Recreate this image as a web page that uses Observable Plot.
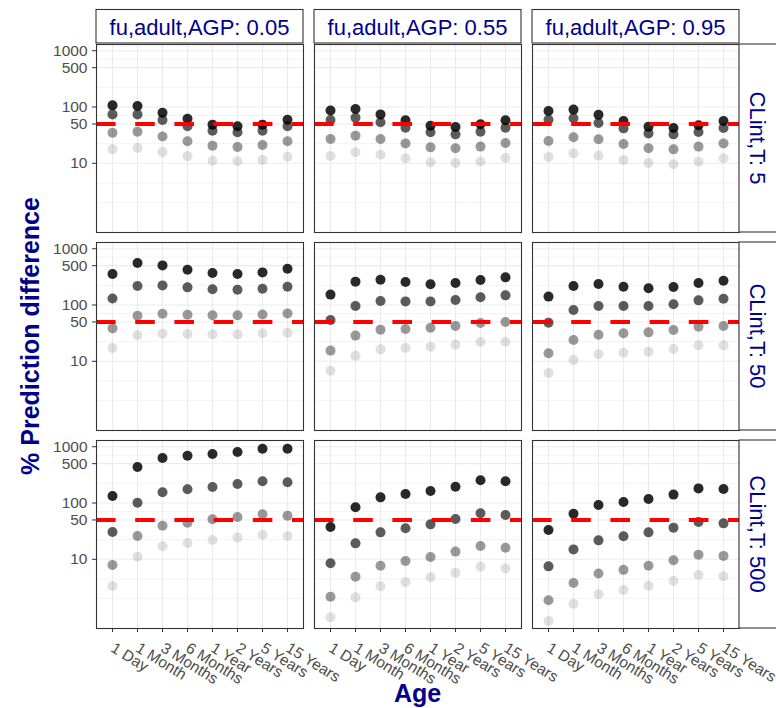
<!DOCTYPE html>
<html><head><meta charset="utf-8">
<script src="https://cdn.jsdelivr.net/npm/d3@7"></script>
<script src="https://cdn.jsdelivr.net/npm/@observablehq/plot@0.6"></script>
<style>
body{margin:0;background:#fff;overflow:hidden}
#wrap{position:relative;width:776px;height:708px;overflow:hidden}
</style></head><body><div id="wrap"></div>
<script>
// categories
const ages = ["1 Day","1 Month","3 Months","6 Months","1 Year","2 Years","5 Years","15 Years"];
const agpLevels = ["0.05","0.55","0.95"];
const clintLevels = ["5","50","500"];
// four series per panel, darkest to lightest
const seriesOpacity = [0.84, 0.64, 0.4, 0.12];
// tick labels
const yTicks = [10, 50, 100, 500, 1000];
const yMinor = [2, 4.47, 22.4, 70.7, 224, 707];
const refLine = 50;

// values, one array per panel: [series1..series4] x ages
const p5_005 = [
  [107,104,79,62,48.6,45.4,48.6,59.6],
  [74,74,58.8,45.4,38,35.5,38,45.4],
  [35,36.5,30,24.6,20.6,19.5,21.2,24.6],
  [17.7,18.7,15.9,13.3,11.1,10.9,11.5,13.1]];
const p5_055 = [
  [87,92,74,58,46.6,44.2,49.3,58],
  [58.8,64.7,53.5,43,35.5,32.7,36.5,43],
  [27,31,27,22.6,19.2,18.5,19.8,23],
  [13.5,15.7,14.2,12.3,10.4,10.1,10.8,12.4]];
const p5_095 = [
  [85,90,73,56.4,44.8,42.4,47.3,56.4],
  [59.6,63,52,41.8,34,32.7,36,42.4],
  [24.9,29,26.7,22,18.5,17.7,19.8,22.6],
  [13,15,13.7,11.5,10.1,9.6,10.7,12.3]];
const p50_005 = [
  [355,557,506,424,370,355,380,442],
  [131,217,223,206,190,187,195,211],
  [38.5,64.7,70,67,65.6,65.6,68,71],
  [17.2,29,31,30.6,30.1,30.1,31.4,32.3]];
const p50_055 = [
  [153,260,282,256,233,246,278,310],
  [54,96,118,116,116,123,137,148.5],
  [15.5,28.6,36.5,37.5,39.6,42.4,47.9,49.9],
  [6.8,12.6,16.3,17.2,18.2,19.8,22,22.3]];
const p50_095 = [
  [141,217,236,211,198,209,246,270],
  [48.6,81.5,96,96,96,103,121,129.5],
  [13.9,23.9,29.7,31.4,32.7,36,41.2,42.4],
  [6.2,10.5,13.3,14.2,14.8,16.6,19.2,19.2]];
const p500_005 = [
  [133,436,629,692,741,804,921,921],
  [30.6,101,155,175,192,217,243,233],
  [7.9,26,39.6,44.8,51.3,56.4,63,59.6],
  [3.36,11.1,17,19.5,22,24.3,27.4,26]];
const p500_055 = [
  [37.5,83.8,126,144.5,163,195,253,243],
  [8.5,19.2,30.1,35.5,41.8,52,65.6,61.2],
  [2.17,4.92,7.7,9.3,11,13.7,17.2,16.1],
  [0.93,2.11,3.32,3.96,4.8,5.8,7.4,6.9]];
const p500_095 = [
  [33.2,64.7,92,104,118,141,182,177],
  [7.5,15,21.7,25.6,30.1,36.5,46,43.5],
  [1.87,3.8,5.6,6.5,7.7,9.6,12.1,11.5],
  [0.80,1.63,2.39,2.85,3.4,4.12,5.27,5]];

const panels = [
  ["5","0.05",p5_005],["5","0.55",p5_055],["5","0.95",p5_095],
  ["50","0.05",p50_005],["50","0.55",p50_055],["50","0.95",p50_095],
  ["500","0.05",p500_005],["500","0.55",p500_055],["500","0.95",p500_095]];

const table = [];
for (let s = 3; s >= 0; s--) {
  for (const [clint, agp, vals] of panels) {
    vals[s].forEach((v, i) => table.push({clint, agp, age: ages[i], value: v, op: seriesOpacity[s]}));
  }
}

const FONT = "'Liberation Sans', Arial, Helvetica, sans-serif";
const chart = Plot.plot({
  width: 776, height: 708,
  marginLeft: 96, marginRight: 36, marginTop: 43, marginBottom: 79,
  style: {fontFamily: FONT, background: "white"},
  fx: {domain: agpLevels, paddingInner: 0.0493, paddingOuter: 0, axis: null},
  fy: {domain: clintLevels, paddingInner: 0.0516, paddingOuter: 0, axis: null},
  x: {type: "point", domain: ages, padding: 0.6, axis: null},
  y: {type: "log", domain: [0.59, 1290], axis: null},
  marks: [
    Plot.gridY(yMinor, {stroke: "#ebebeb", strokeOpacity: 1, strokeWidth: 0.6}),
    Plot.gridY(yTicks, {stroke: "#ebebeb", strokeOpacity: 1, strokeWidth: 1.1}),
    Plot.gridX(ages, {stroke: "#ebebeb", strokeOpacity: 1, strokeWidth: 1.1}),
    Plot.dot(table, {x: "age", y: "value", fx: "agp", fy: "clint", r: 5, fill: "black", fillOpacity: "op", stroke: "none"}),
    Plot.ruleY([refLine], {stroke: "red", strokeWidth: 4, strokeDasharray: "19.6,19.6"}),
    Plot.frame({stroke: "#333", strokeWidth: 1.1}),
    Plot.axisY(yTicks, {tickSize: 4, tickPadding: 5, fontSize: 15.5, stroke: "#333", fill: "#4d4d4d", text: d => String(d), label: null}),
    Plot.axisX(ages, {tickSize: 4, tickPadding: 14, tickRotate: 32, fontSize: 15.5, stroke: "#333", fill: "#4d4d4d", label: null})
  ]
});
document.getElementById("wrap").appendChild(chart);

// facet strips and axis titles, positioned with Plot's own facet scales
const fx = chart.scale("fx"), fy = chart.scale("fy");
const svg = d3.select(chart);
const stripH = 33.5;
const top0 = 43;
const gTop = svg.append("g");
agpLevels.forEach(a => {
  const x0 = fx.apply(a);
  gTop.append("rect").attr("x", x0).attr("y", top0 - stripH).attr("width", fx.bandwidth).attr("height", stripH)
    .attr("fill", "white").attr("stroke", "#333").attr("stroke-width", 1.1);
  gTop.append("text").attr("x", x0 + fx.bandwidth / 2).attr("y", top0 - 8)
    .attr("text-anchor", "middle").attr("font-size", 22).attr("fill", "#00008b").attr("font-family", FONT)
    .text("fu,adult,AGP: " + a);
});
const rightX = fx.apply(agpLevels[agpLevels.length - 1]) + fx.bandwidth;
clintLevels.forEach(c => {
  const y0 = fy.apply(c);
  gTop.append("rect").attr("x", rightX).attr("y", y0).attr("width", 60).attr("height", fy.bandwidth)
    .attr("fill", "white").attr("stroke", "#333").attr("stroke-width", 1.1);
  gTop.append("text").attr("transform", `translate(${rightX + 11},${y0 + fy.bandwidth / 2}) rotate(90)`)
    .attr("text-anchor", "middle").attr("font-size", 22).attr("fill", "#00008b").attr("font-family", FONT)
    .text("CLint,T: " + c);
});
const fyTop = fy.apply(clintLevels[0]);
const fyBot = fy.apply(clintLevels[clintLevels.length - 1]) + fy.bandwidth;
const fxL = fx.apply(agpLevels[0]);
svg.append("text").attr("transform", `translate(39,${(fyTop + fyBot) / 2}) rotate(-90)`)
  .attr("text-anchor", "middle").attr("font-size", 25).attr("font-weight", "bold").attr("fill", "#00008b").attr("font-family", FONT)
  .text("% Prediction difference");
svg.append("text").attr("x", (fxL + rightX) / 2).attr("y", 702)
  .attr("text-anchor", "middle").attr("font-size", 25).attr("font-weight", "bold").attr("fill", "#00008b").attr("font-family", FONT)
  .text("Age");
</script></body></html>
